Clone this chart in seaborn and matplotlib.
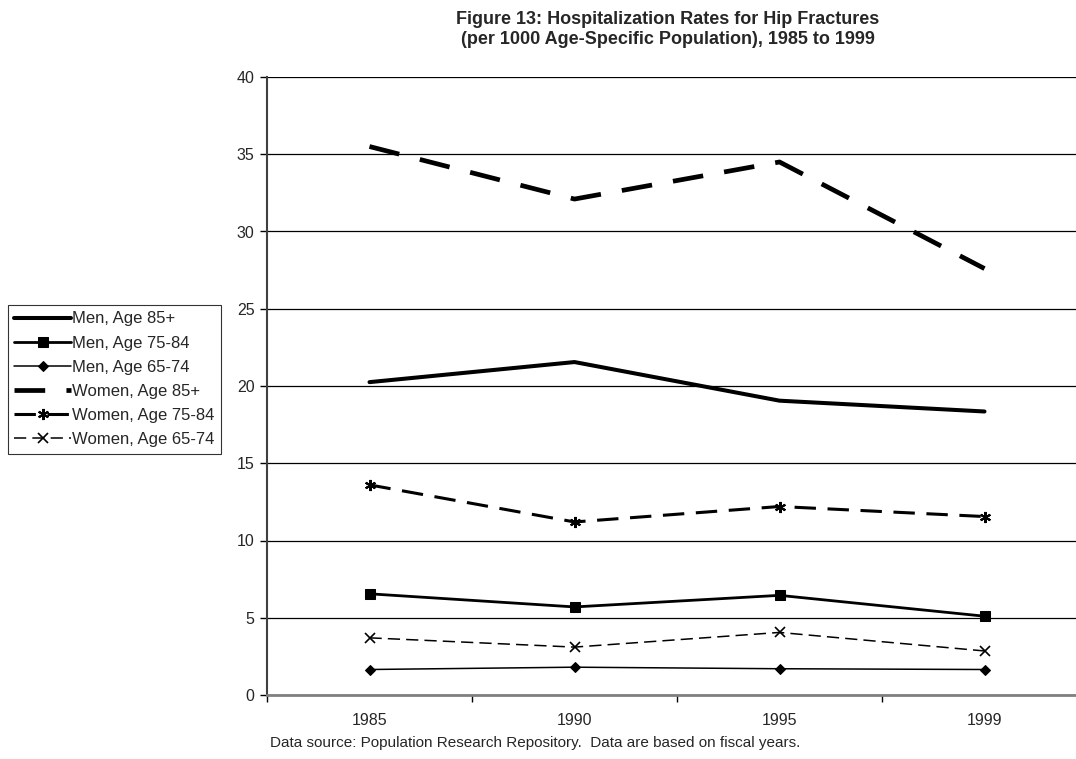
import matplotlib
matplotlib.use("Agg")
import matplotlib.pyplot as plt
import seaborn as sns
import numpy as np

years = ["1985", "1990", "1995", "1999"]
men_85 = [20.25, 21.55, 19.05, 18.35]
men_75_84 = [6.55, 5.7, 6.45, 5.1]
men_65_74 = [1.65, 1.8, 1.7, 1.65]
women_85 = [35.5, 32.1, 34.5, 27.6]
women_75_84 = [13.6, 11.2, 12.2, 11.55]
women_65_74 = [3.7, 3.1, 4.05, 2.85]

sns.set_theme(style="white")
plt.rcParams["font.family"] = ["Liberation Sans", "DejaVu Sans"]

fig = plt.figure(figsize=(10.76, 7.59), dpi=100)
ax = fig.add_axes([267 / 1076, 64 / 759, 820 / 1076, 618 / 759])

pos = np.arange(len(years))
series = [
    ("Men, Age 85+", men_85, dict(lw=2.9, marker=None, linestyle="-")),
    ("Men, Age 75-84", men_75_84, dict(lw=2.0, marker="s", ms=7, linestyle="-")),
    ("Men, Age 65-74", men_65_74, dict(lw=1.1, marker="D", ms=5.5, linestyle="-")),
    ("Women, Age 85+", women_85, dict(lw=3.4, marker=None, linestyle=(0, (6.5, 4.5)))),
    ("Women, Age 75-84", women_75_84, dict(lw=2.2, marker=(6, 2, 0), ms=8, mew=1.5, linestyle=(0, (7, 3.8)))),
    ("Women, Age 65-74", women_65_74, dict(lw=1.1, marker="x", ms=7, mew=1.2, linestyle=(0, (8, 4)))),
]
for label, vals, kw in series:
    sns.lineplot(x=pos, y=vals, ax=ax, color="black", label=label,
                 markeredgecolor="black", markerfacecolor="black", **kw)

ax.set_xlim(-0.5, 3.5)
ax.set_ylim(0, 40)
ax.set_yticks(np.arange(0, 41, 5))
ax.set_xticks(pos)
ax.set_xticklabels(years)
ax.set_xticks(np.arange(-0.5, 3.6, 1), minor=True)
ax.tick_params(axis="x", which="major", length=0, pad=13, labelsize=11.5)
ax.tick_params(axis="x", which="minor", length=5, width=1, color="black", direction="out", bottom=True)
ax.tick_params(axis="y", length=5, width=1, color="black", direction="out", left=True, labelsize=11.5, pad=4)
ax.yaxis.grid(True, color="black", lw=0.9)
ax.xaxis.grid(False)
for s in ["top", "right"]:
    ax.spines[s].set_visible(False)
ax.spines["left"].set_color("#404040")
ax.spines["left"].set_linewidth(1.5)
ax.spines["bottom"].set_color("#808080")
ax.spines["bottom"].set_linewidth(2)
ax.set_xlabel("")
ax.set_ylabel("")

leg = ax.legend(loc="upper left", bbox_to_anchor=(8 / 1076, 1 - 305 / 759),
                bbox_transform=fig.transFigure, fontsize=12, handlelength=3.4,
                handletextpad=0.05, labelspacing=0.55, borderpad=0.38,
                borderaxespad=0, frameon=True, fancybox=False, edgecolor="black")
leg.get_frame().set_linewidth(0.8)

fig.text(668 / 1076, 1 - 11 / 759, "Figure 13: Hospitalization Rates for Hip Fractures\n(per 1000 Age-Specific Population), 1985 to 1999",
         ha="center", va="top", fontsize=13, fontweight="bold", linespacing=1.25)
fig.text(270 / 1076, 1 - 743 / 759, "Data source: Population Research Repository.  Data are based on fiscal years.",
         ha="left", va="center", fontsize=11)

fig.savefig("out.png", dpi=100)
